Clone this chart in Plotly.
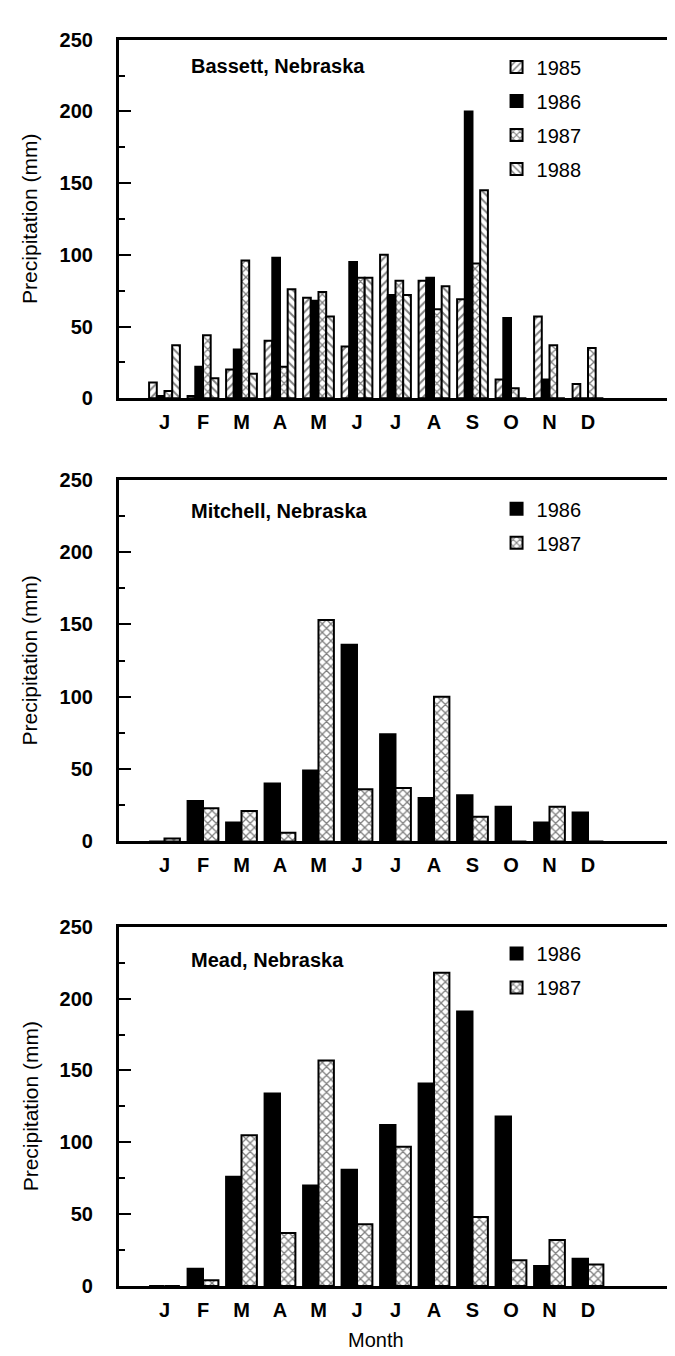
import plotly.graph_objects as go

W, H = 675, 1356

months = ["J", "F", "M", "A", "M", "J", "J", "A", "S", "O", "N", "D"]
month_pos = list(range(len(months)))

# Bassett, Nebraska (mm)
bassett_1985 = [11, 1.5, 20, 40, 70, 36, 100, 82, 69, 13, 57, 10]
bassett_1986 = [1.5, 22, 34, 98, 68, 95, 72, 84, 200, 56, 13, 0]
bassett_1987 = [5, 44, 96, 22, 74, 84, 82, 62, 94, 7, 37, 35]
bassett_1988 = [37, 14, 17, 76, 57, 84, 72, 78, 145, 0, 0, 0]

# Mitchell, Nebraska (mm)
mitchell_1986 = [0, 28, 13, 40, 49, 136, 74, 30, 32, 24, 13, 20]
mitchell_1987 = [2, 23, 21, 6, 153, 36, 37, 100, 17, 0, 24, 0]

# Mead, Nebraska (mm)
mead_1986 = [0, 12, 76, 134, 70, 81, 112, 141, 191, 118, 14, 19]
mead_1987 = [0, 4, 105, 37, 157, 43, 97, 218, 48, 18, 32, 15]

y_ticks = [0, 50, 100, 150, 200, 250]

FONT = "Liberation Sans, Arial, Helvetica, sans-serif"

def px_x(p):
    return p / W

def px_y(p):
    return 1 - p / H

# panel pixel boxes (top, bottom)
panels = [(21, 385.5), (468.3, 836), (922.7, 1288)]
x_left, x_right = 111, 674

fig = go.Figure()

styles = {
    "1985": dict(color="white", pattern=dict(shape="/", fgcolor="black", bgcolor="white", size=6, solidity=0.32)),
    "1986": dict(color="black"),
    "1987": dict(color="white", pattern=dict(shape="x", fgcolor="black", bgcolor="white", size=6, solidity=0.38)),
    "1988": dict(color="white", pattern=dict(shape="\\", fgcolor="black", bgcolor="white", size=6, solidity=0.32)),
}

series = [
    (1, "legend", [("1985", bassett_1985), ("1986", bassett_1986), ("1987", bassett_1987), ("1988", bassett_1988)]),
    (2, "legend2", [("1986", mitchell_1986), ("1987", mitchell_1987)]),
    (3, "legend3", [("1986", mead_1986), ("1987", mead_1987)]),
]

for idx, leg, lst in series:
    xa = "x" if idx == 1 else f"x{idx}"
    ya = "y" if idx == 1 else f"y{idx}"
    for name, vals in lst:
        st = styles[name]
        marker = dict(color=st["color"], line=dict(color="black", width=2))
        if "pattern" in st:
            marker["pattern"] = st["pattern"]
        fig.add_trace(go.Bar(
            x=month_pos, y=vals, name=name, marker=marker,
            xaxis=xa, yaxis=ya, legend=leg, legendgroup=f"{idx}-{name}",
            showlegend=True,
        ))

layout = dict(
    width=W, height=H,
    margin=dict(l=0, r=0, t=0, b=0),
    paper_bgcolor="white", plot_bgcolor="white",
    barmode="group", bargap=0.2, bargroupgap=0.0,
    font=dict(family=FONT, size=20, color="black"),
    showlegend=True,
)

for i, (top, bot) in enumerate(panels, start=1):
    xk = "xaxis" if i == 1 else f"xaxis{i}"
    yk = "yaxis" if i == 1 else f"yaxis{i}"
    layout[xk] = dict(
        domain=[px_x(x_left), px_x(x_right)],
        anchor="y" if i == 1 else f"y{i}",
        range=[-1.19, 13.39],
        tickmode="array", tickvals=month_pos, ticktext=months,
        ticks="", showgrid=False, zeroline=False,
        showline=True, mirror=True, linecolor="black", linewidth=2.5,
        tickfont=dict(family=FONT, size=20, color="black", weight="bold"),
        ticklabelstandoff=4,
        fixedrange=True,
    )
    layout[yk] = dict(
        domain=[px_y(bot), px_y(top)],
        anchor="x" if i == 1 else f"x{i}",
        range=[0, 250],
        tickmode="array", tickvals=y_ticks,
        ticks="inside", ticklen=13, tickwidth=2, tickcolor="black",
        minor=dict(dtick=25, ticks="inside", ticklen=7, tickwidth=2, tickcolor="black", showgrid=False),
        showgrid=False, zeroline=False,
        showline=True, mirror=True, linecolor="black", linewidth=2.5,
        tickfont=dict(family=FONT, size=20, color="black", weight="bold"),
        ticklabelstandoff=19,
        fixedrange=True,
    )

leg_common = dict(
    xanchor="left", yanchor="top", bgcolor="rgba(0,0,0,0)",
    font=dict(family=FONT, size=20, color="black"),
    itemwidth=30, tracegroupgap=5, traceorder="grouped",
)
layout["legend"] = dict(x=px_x(490), y=px_y(29), **leg_common)
layout["legend2"] = dict(x=px_x(490), y=px_y(478), **leg_common)
layout["legend3"] = dict(x=px_x(490), y=px_y(930), **leg_common)

fig.update_layout(**layout)

titles = [("Bassett, Nebraska", 48), ("Mitchell, Nebraska", 500), ("Mead, Nebraska", 957)]
for text, yp in titles:
    fig.add_annotation(
        text=f"<b>{text}</b>", x=px_x(182), y=px_y(yp), xref="paper", yref="paper",
        xanchor="left", yanchor="middle", showarrow=False,
        font=dict(family=FONT, size=20, color="black"),
    )

for top, bot in panels:
    fig.add_annotation(
        text="Precipitation (mm)", textangle=-90,
        x=px_x(22), y=px_y((top + bot) / 2), xref="paper", yref="paper",
        xanchor="center", yanchor="middle", showarrow=False,
        font=dict(family=FONT, size=21, color="black"),
    )

fig.add_annotation(
    text="Month", x=px_x(369), y=px_y(1343), xref="paper", yref="paper",
    xanchor="center", yanchor="middle", showarrow=False,
    font=dict(family=FONT, size=20, color="black"),
)

fig.write_html("out.html")
